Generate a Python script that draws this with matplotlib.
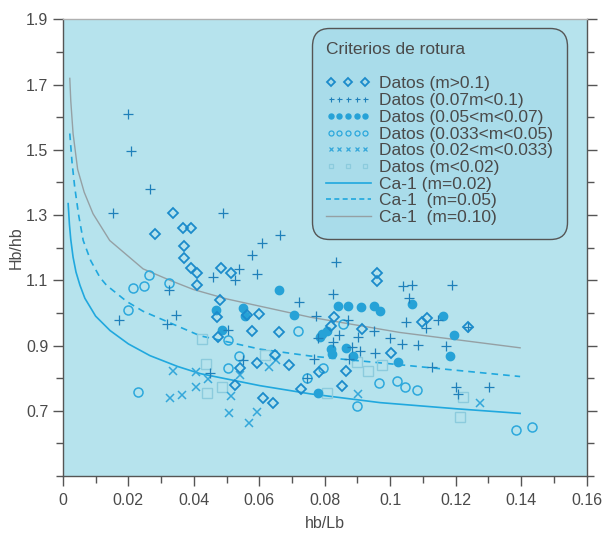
import matplotlib
matplotlib.use('Agg')

import numpy as np
import matplotlib.pyplot as plt
from matplotlib.lines import Line2D
from matplotlib.legend_handler import HandlerLine2D
from matplotlib.ticker import MultipleLocator, FixedLocator

plt.rcParams['font.family'] = ['Liberation Sans', 'DejaVu Sans']

# ==========================================
# DATA
# ==========================================
# Datos (m>0.1) - open diamonds
d_x = [0.0337, 0.0282, 0.0368, 0.0390, 0.0369, 0.0369, 0.0391, 0.0409, 0.0409,
       0.0482, 0.0513, 0.0480, 0.0470, 0.0561, 0.0599, 0.0579, 0.0660, 0.0475,
       0.0648, 0.0592, 0.0541, 0.0691, 0.0526, 0.0610, 0.0643, 0.0727, 0.0959,
       0.0959, 0.0829, 0.0818, 0.0913, 0.1097, 0.1112, 0.1237, 0.1003, 0.0783,
       0.0865, 0.0854]
d_y = [1.306, 1.241, 1.260, 1.260, 1.205, 1.168, 1.137, 1.121, 1.086,
       1.138, 1.123, 1.040, 0.987, 0.994, 0.996, 0.944, 0.943, 0.927,
       0.872, 0.845, 0.830, 0.840, 0.780, 0.740, 0.725, 0.768, 1.123,
       1.099, 0.989, 0.959, 0.951, 0.971, 0.983, 0.958, 0.877, 0.820,
       0.822, 0.777]

# Datos (0.07<m<0.1) - plus
p_x = [0.0199, 0.0207, 0.0266, 0.0154, 0.0488, 0.0663, 0.0607, 0.0577, 0.0538,
       0.0593, 0.0525, 0.0459, 0.0325, 0.0172, 0.0345, 0.0317, 0.0503, 0.0549,
       0.0449, 0.0720, 0.0835, 0.0824, 0.0773, 0.0872, 0.1039, 0.1066, 0.1189,
       0.1056, 0.1049, 0.1109, 0.1147, 0.1237, 0.0951, 0.0903, 0.0998, 0.0780,
       0.0826, 0.1035, 0.1084, 0.1170, 0.0845, 0.0883, 0.0908, 0.0954, 0.0767,
       0.0875, 0.1127, 0.1202, 0.1303, 0.1207, 0.0747]
p_y = [1.611, 1.496, 1.379, 1.307, 1.306, 1.238, 1.215, 1.179, 1.135,
       1.118, 1.102, 1.109, 1.071, 0.979, 0.993, 0.966, 0.948, 0.857,
       0.815, 1.032, 1.155, 1.058, 0.992, 0.979, 1.083, 1.087, 1.086,
       1.046, 0.971, 0.954, 0.979, 0.958, 0.946, 0.925, 0.923, 0.922,
       0.912, 0.905, 0.902, 0.899, 0.933, 0.897, 0.884, 0.877, 0.859,
       0.859, 0.833, 0.774, 0.772, 0.750, 0.800]

# Datos (0.05<m<0.07) - filled circles
f_x = [0.0659, 0.0549, 0.0468, 0.0556, 0.0706, 0.0485, 0.0840, 0.0871, 0.0910,
       0.0952, 0.0969, 0.1068, 0.1160, 0.1195, 0.1183, 0.0806, 0.0791, 0.0786,
       0.0819, 0.0823, 0.0864, 0.0886, 0.1025, 0.0780]
f_y = [1.069, 1.015, 1.009, 0.992, 0.995, 0.948, 1.022, 1.022, 1.019,
       1.022, 1.006, 1.026, 0.992, 0.933, 0.868, 0.946, 0.936, 0.925,
       0.888, 0.874, 0.893, 0.869, 0.851, 0.756]

# Datos (0.033<m<0.05) - open circles
o_x = [0.0262, 0.0214, 0.0247, 0.0325, 0.0199, 0.0230, 0.0503, 0.0538, 0.0505,
       0.0719, 0.0747, 0.0857, 0.0796, 0.0966, 0.1020, 0.1045, 0.1082, 0.0898,
       0.1385, 0.1433]
o_y = [1.116, 1.077, 1.083, 1.092, 1.009, 0.758, 0.917, 0.868, 0.832,
       0.946, 0.800, 0.966, 0.830, 0.784, 0.790, 0.772, 0.764, 0.715,
       0.641, 0.651]

# Datos (0.02<m<0.033) - crosses
x_x = [0.0337, 0.0406, 0.0444, 0.0406, 0.0327, 0.0363, 0.0513, 0.0541, 0.0630,
       0.0651, 0.0506, 0.0592, 0.0569, 0.0901, 0.1275]
x_y = [0.821, 0.818, 0.797, 0.772, 0.738, 0.748, 0.744, 0.810, 0.833,
       0.856, 0.692, 0.697, 0.664, 0.751, 0.725]

# Datos (m<0.02) - open squares
s_x = [0.0424, 0.0436, 0.0485, 0.0439, 0.0617, 0.0900, 0.0933, 0.0976, 0.0808,
       0.1221, 0.1212]
s_y = [0.920, 0.843, 0.774, 0.754, 0.872, 0.848, 0.821, 0.840, 0.753,
       0.743, 0.681]

# Ca-1 curves
c02_x = [0.0016, 0.0020, 0.0024, 0.0031, 0.0040, 0.0052, 0.0067, 0.0100, 0.0144,
         0.0200, 0.0266, 0.0350, 0.0419, 0.0602, 0.0755, 0.0969, 0.1204, 0.1397]
c02_y = [1.335, 1.270, 1.225, 1.171, 1.125, 1.085, 1.045, 0.990, 0.946,
         0.905, 0.869, 0.836, 0.814, 0.777, 0.752, 0.725, 0.706, 0.692]
c05_x = [0.0021, 0.0028, 0.0036, 0.0048, 0.0062, 0.0085, 0.0113, 0.0133, 0.0195,
         0.0245, 0.0419, 0.0602, 0.0755, 0.1132, 0.1397]
c05_y = [1.550, 1.460, 1.386, 1.300, 1.222, 1.160, 1.109, 1.085, 1.035,
         1.005, 0.930, 0.889, 0.868, 0.831, 0.805]
c10_x = [0.0021, 0.0024, 0.0031, 0.0045, 0.0065, 0.0092, 0.0143, 0.0245, 0.0327,
         0.0398, 0.0500, 0.0755, 0.1030, 0.1397]
c10_y = [1.719, 1.650, 1.550, 1.440, 1.370, 1.304, 1.222, 1.135, 1.100,
         1.072, 1.043, 0.987, 0.940, 0.893]

x_ticks = [0, 0.02, 0.04, 0.06, 0.08, 0.1, 0.12, 0.14, 0.16]
x_labels = ['0', '0.02', '0.04', '0.06', '0.08', '0.1', '0.12', '0.14', '0.16']
y_ticks = [0.7, 0.9, 1.1, 1.3, 1.5, 1.7, 1.9]

# ==========================================
# PLOT
# ==========================================
BG = '#b6e3ed'
C_D = '#1b8bcb'
C_P = '#1f80ba'
C_F = '#26a2d7'
C_O = '#2ca8dc'
C_X = '#34a7da'
C_S = '#8ccbdd'
C_LINE = '#20a8de'
C_GRAY = '#95a0a4'
TXT = '#4a4a4a'

fig = plt.figure(figsize=(6.05, 5.38), dpi=100)
ax = fig.add_axes([0.104, 0.1152, 0.8655, 0.8489])
ax.set_facecolor(BG)

ax.plot(c02_x, c02_y, color=C_LINE, lw=1.2, zorder=2)
ax.plot(c05_x, c05_y, color=C_LINE, lw=1.2, ls=(0, (4, 3)), zorder=2)
ax.plot(c10_x, c10_y, color=C_GRAY, lw=1.0, zorder=2)

ax.plot(s_x, s_y, ls='none', marker='s', ms=7, mfc='none', mec=C_S, mew=1.0, zorder=3)
ax.plot(x_x, x_y, ls='none', marker='x', ms=6, mec=C_X, mew=1.1, zorder=3)
ax.plot(o_x, o_y, ls='none', marker='o', ms=6.5, mfc='none', mec=C_O, mew=1.1, zorder=3)
ax.plot(f_x, f_y, ls='none', marker='o', ms=6, mfc=C_F, mec=C_F, zorder=3)
ax.plot(p_x, p_y, ls='none', marker='+', ms=6.5, mec=C_P, mew=0.9, zorder=4)
ax.plot(d_x, d_y, ls='none', marker='D', ms=5.6, mfc='none', mec=C_D, mew=1.3, zorder=4)

ax.set_xlim(0, 0.16)
ax.set_ylim(0.5, 1.9)
ax.xaxis.set_major_locator(FixedLocator(x_ticks))
ax.set_xticklabels(x_labels)
ax.xaxis.set_minor_locator(MultipleLocator(0.01))
ax.yaxis.set_major_locator(FixedLocator(y_ticks))
ax.yaxis.set_minor_locator(MultipleLocator(0.1))
ax.tick_params(which='both', direction='out', colors='#555555', labelcolor=TXT,
               labelsize=11.5, width=1.0, right=True)
ax.tick_params(which='major', length=7)
ax.tick_params(which='minor', length=5)
ax.tick_params(axis='x', pad=5)
for s in ax.spines.values():
    s.set_color('#555555')
    s.set_linewidth(1.0)
ax.spines['top'].set_color('#b0b0b0')

ax.set_xlabel('hb/Lb', fontsize=11.5, color=TXT, labelpad=6)
ax.set_ylabel('Hb/hb', fontsize=11.5, color=TXT, labelpad=2)

# legend
h_d = Line2D([], [], ls='none', marker='D', ms=4.4, mfc='none', mec=C_D, mew=1.3)
h_p = Line2D([], [], ls='none', marker='+', ms=3.6, mec=C_P, mew=0.8)
h_f = Line2D([], [], ls='none', marker='o', ms=3.6, mfc=C_F, mec=C_F)
h_o = Line2D([], [], ls='none', marker='o', ms=3.6, mfc='none', mec=C_O, mew=0.9)
h_x = Line2D([], [], ls='none', marker='x', ms=3.0, mec=C_X, mew=0.9)
h_s = Line2D([], [], ls='none', marker='s', ms=3.4, mfc='none', mec=C_S, mew=0.9)
h_l1 = Line2D([], [], color=C_LINE, lw=1.2)
h_l2 = Line2D([], [], color=C_LINE, lw=1.2, ls=(0, (3, 2)))
h_l3 = Line2D([], [], color=C_GRAY, lw=1.0)

handles = [h_d, h_p, h_f, h_o, h_x, h_s, h_l1, h_l2, h_l3]
labels = ['Datos (m>0.1)', 'Datos (0.07m<0.1)', 'Datos (0.05<m<0.07)',
          'Datos (0.033<m<0.05)', 'Datos (0.02<m<0.033)', 'Datos (m<0.02)',
          'Ca-1 (m=0.02)', 'Ca-1  (m=0.05)', 'Ca-1  (m=0.10)']
hmap = {h_d: HandlerLine2D(numpoints=3), h_p: HandlerLine2D(numpoints=5),
        h_f: HandlerLine2D(numpoints=5), h_o: HandlerLine2D(numpoints=5),
        h_x: HandlerLine2D(numpoints=5), h_s: HandlerLine2D(numpoints=3)}

leg = ax.legend(handles, labels, handler_map=hmap, loc='upper left',
                bbox_to_anchor=(0.475, 0.980), borderaxespad=0,
                title='Criterios de rotura\n', title_fontsize=12.5, alignment='left',
                fontsize=12.5, labelspacing=0.09, handlelength=2.6, handletextpad=0.5,
                borderpad=0.8, fancybox=True, framealpha=1.0, facecolor='#a9dcea',
                edgecolor='#555555', labelcolor=TXT)
leg.get_frame().set_linewidth(1.0)
leg.get_frame().set_boxstyle('round,pad=0,rounding_size=1.0')
leg.get_title().set_color(TXT)

fig.savefig('out.png', dpi=100, facecolor='white')
